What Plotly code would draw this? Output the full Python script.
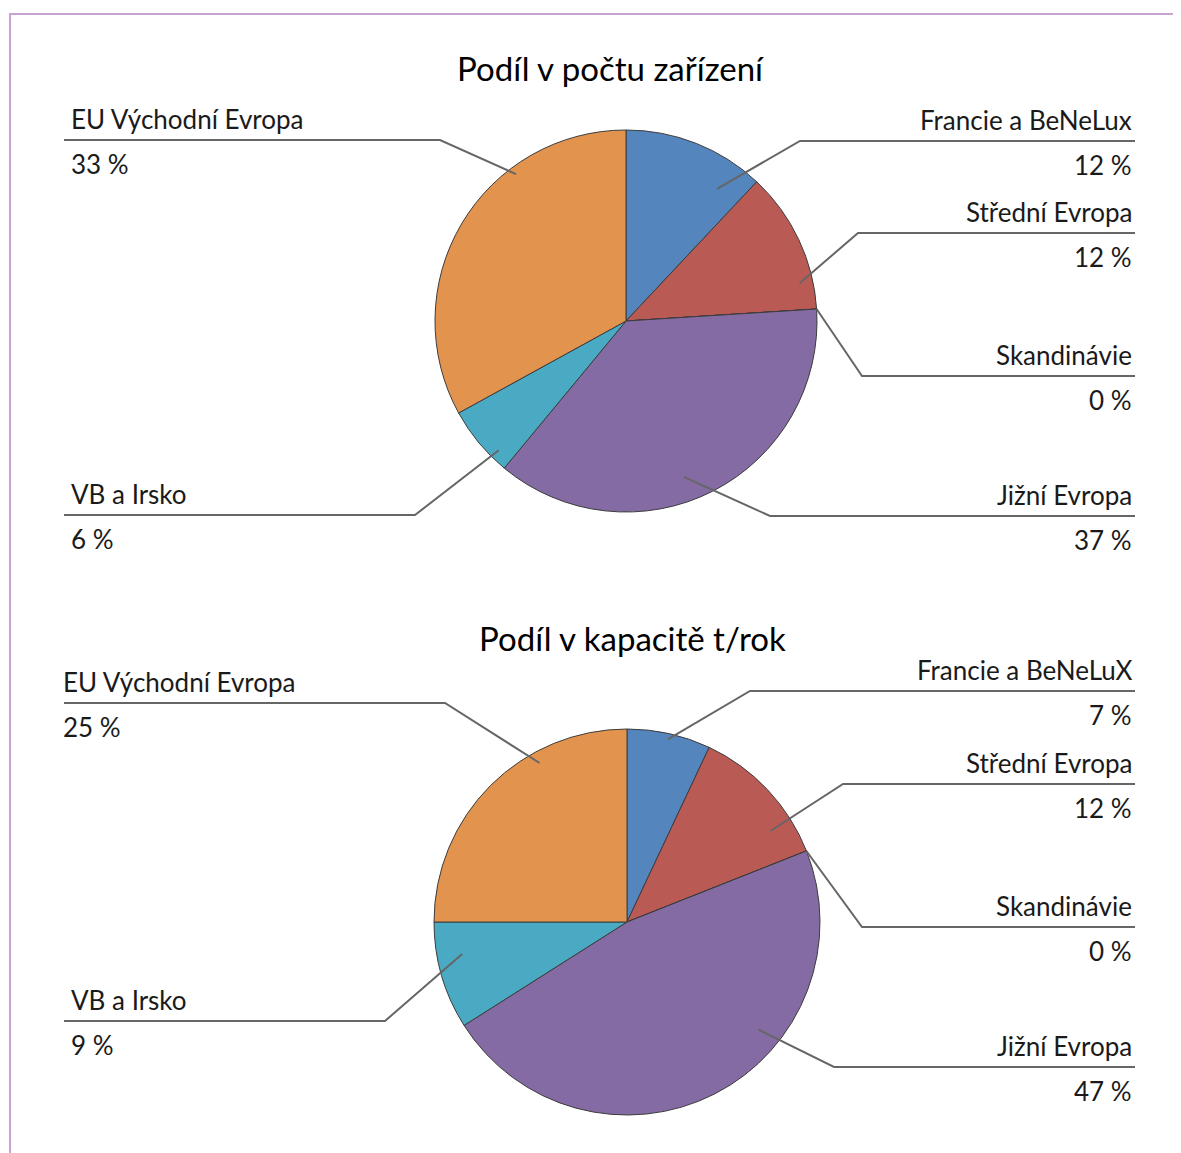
import math
import plotly.graph_objects as go

# ---------------- data ----------------
title_top = "Podíl v počtu zařízení"
title_bottom = "Podíl v kapacitě t/rok"

regions_top = ["Francie a BeNeLux", "Střední Evropa", "Skandinávie",
               "Jižní Evropa", "VB a Irsko", "EU Východní Evropa"]
regions_bottom = ["Francie a BeNeLuX", "Střední Evropa", "Skandinávie",
                  "Jižní Evropa", "VB a Irsko", "EU Východní Evropa"]
share_top = [12, 12, 0, 37, 6, 33]        # % of installations
share_bottom = [7, 12, 0, 47, 9, 25]      # % of capacity t/year

# ---------------- style / layout ----------------
OFF = 8                      # page body margin compensation
W, H = 1181 - OFF, 1153 - OFF
colors = ["#5585BD", "#BA5A55", "#9BBB59", "#856BA3", "#4AAAC4", "#E2944E"]
FONT = "Lato, 'Open Sans', sans-serif"
TXT = "#1a1a1a"
LEADER = "#666666"

charts = [
    dict(labels=regions_top, values=share_top, title=title_top,
         cx=626, cy=321, r=191, title_x=610, title_y=68,
         line_y=[141, 233, 376, 516, 515, 140],
         elbow_x=[800, 858, 862, 770, 415, 440],
         side=["R", "R", "R", "R", "L", "L"],
         afrac=[0.8, 0.8, 1.0, 0.55, 0.23, 0.69],
         rfrac=[0.84, 0.93, 1.0, 0.87, 0.95, 0.96],
         left_x=[69, 69, 69, 69, 69, 69]),
    dict(labels=regions_bottom, values=share_bottom, title=title_bottom,
         cx=627, cy=922, r=193, title_x=632, title_y=638,
         line_y=[691, 784, 927, 1067, 1021, 703],
         elbow_x=[750, 843, 862, 834, 385, 445],
         side=["R", "R", "R", "R", "L", "L"],
         afrac=[0.5, 0.75, 1.0, 0.36, 0.66, 0.68],
         rfrac=[0.97, 0.88, 1.0, 0.88, 0.87, 0.94],
         left_x=[68, 68, 68, 68, 69, 61]),
]

RIGHT_TXT = 1134
RIGHT_LINE = 1135
LEFT_LINE = 64


def X(v):
    return v - OFF


def Y(v):
    return v - OFF


fig = go.Figure()
shapes = []
annotations = []

# invisible scatter to establish pixel axes
fig.add_trace(go.Scatter(x=[0, W], y=[0, H], mode="markers",
                         marker=dict(opacity=0), hoverinfo="skip",
                         showlegend=False))

for c in charts:
    cx, cy, r = X(c["cx"]), Y(c["cy"]), c["r"]
    fig.add_trace(go.Pie(
        labels=c["labels"], values=c["values"], sort=False,
        direction="clockwise", rotation=0, textinfo="none",
        marker=dict(colors=colors, line=dict(color="#3c3c3c", width=1)),
        domain=dict(x=[(cx - r) / W, (cx + r) / W],
                    y=[1 - (cy + r) / H, 1 - (cy - r) / H]),
        showlegend=False, hovertemplate="%{label}: %{value} %<extra></extra>",
    ))
    annotations.append(dict(x=X(c["title_x"]), y=Y(c["title_y"]), xref="x", yref="y",
                            text=c["title"], showarrow=False,
                            font=dict(family=FONT, size=33, color="#000000"),
                            xanchor="center", yanchor="middle"))
    total = sum(c["values"])
    cum = 0.0
    for i, (lab, v) in enumerate(zip(c["labels"], c["values"])):
        start = cum / total
        span = v / total
        cum += v
        ang = 2 * math.pi * (start + c["afrac"][i] * span)
        rr = c["rfrac"][i] * r
        px = cx + rr * math.sin(ang)
        py = cy - rr * math.cos(ang)
        ly = Y(c["line_y"][i])
        ex = X(c["elbow_x"][i])
        if c["side"][i] == "R":
            outer = X(RIGHT_LINE)
            tx, xa = X(RIGHT_TXT), "right"
        else:
            outer = X(LEFT_LINE)
            tx, xa = X(c["left_x"][i]), "left"
        shapes.append(dict(type="path", xref="x", yref="y",
                           path=f"M {px:.1f} {py:.1f} L {ex} {ly} L {outer} {ly}",
                           line=dict(color=LEADER, width=2)))
        annotations.append(dict(x=tx, y=ly - 21, xref="x", yref="y", text=lab,
                                showarrow=False, xanchor=xa, yanchor="middle",
                                font=dict(family=FONT, size=26, color=TXT)))
        annotations.append(dict(x=tx, y=ly + 24, xref="x", yref="y",
                                text=f"{v} %", showarrow=False, xanchor=xa,
                                yanchor="middle",
                                font=dict(family=FONT, size=26, color=TXT)))

# light purple frame (top and left edges visible)
shapes.append(dict(type="path", xref="x", yref="y",
                   path=f"M {X(10)} {H + 20} L {X(10)} {Y(14)} L {W + 20} {Y(14)}",
                   line=dict(color="#C9A3D3", width=2)))

fig.update_layout(
    width=W, height=H, margin=dict(l=0, r=0, t=0, b=0),
    paper_bgcolor="white", plot_bgcolor="white",
    xaxis=dict(range=[0, W], visible=False, fixedrange=True),
    yaxis=dict(range=[H, 0], visible=False, fixedrange=True),
    shapes=shapes, annotations=annotations,
)

fig.write_html("out.html")
